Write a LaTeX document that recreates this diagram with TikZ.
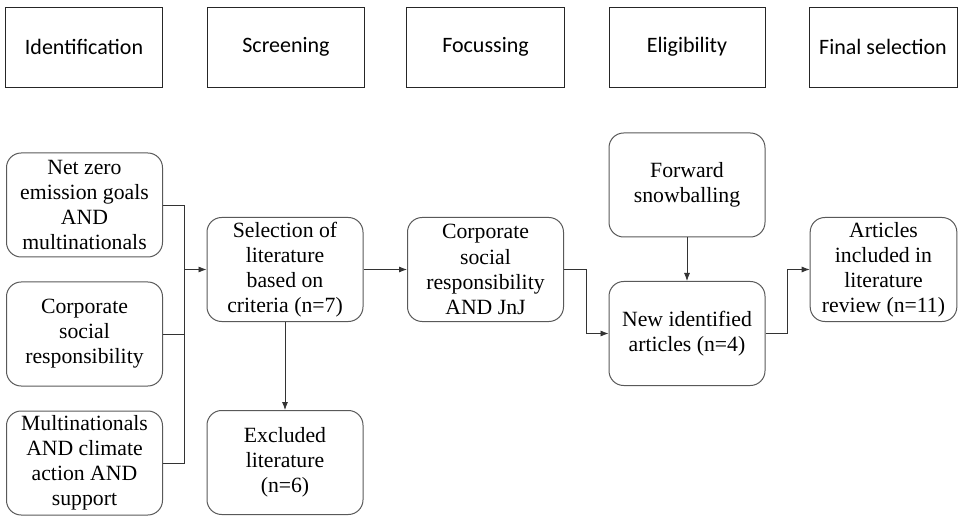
\documentclass[tikz,border=0pt]{standalone}
\usepackage{fontspec}
\setmainfont{Liberation Serif}
\newfontfamily\stagefont{Carlito}
\usetikzlibrary{arrows.meta}
\begin{document}
\begin{tikzpicture}[x=0.75pt,y=-0.75pt,>={Latex[length=6pt,width=4.5pt]},
	stage/.style={rectangle, draw=black!85, line width=0.6pt, minimum width=118pt, minimum height=60pt, font=\stagefont\fontsize{16.5}{19}\selectfont},
	box/.style={rectangle, rounded corners=11pt, draw=black!65, line width=0.75pt, minimum width=117pt, minimum height=78pt, align=center, inner sep=1pt, font=\fontsize{16.3}{18.8}\selectfont},
	link/.style={draw=black!80, line width=0.6pt}]
	\useasboundingbox (0,0) rectangle (966,516);
	\node (ident) at ( 84,  47)	[stage]	{Identification};
	\node (screen) at (286,  47)	[stage]	{Screening};
	\node (focus) at (485.5, 47)	[stage]	{Focussing};
	\node (elig) at (687,  47)	[stage, minimum width=117pt]	{Eligibility};
	\node (final) at (883,  47)	[stage, minimum width=111pt]	{Final selection};
	\node (netzero) at (84.5, 205)	[box]	{Net zero\\emission goals\\AND\\multinationals};
	\node (csr) at (84.5, 334)	[box]	{Corporate\\social\\responsibility};
	\node (multi) at (84.5, 463)	[box]	{Multinationals\\AND climate\\action AND\\support};
	\node (select) at (285, 269.5)	[box]	{Selection of\\literature\\based on\\criteria (n=7)};
	\node (excl) at (285, 462.5)	[box]	{Excluded\\literature\\(n=6)};
	\node (jnj) at (485.5, 269.5)	[box]	{Corporate\\social\\responsibility\\AND JnJ};
	\node (fwd) at (687, 185)	[box]	{Forward\\snowballing};
	\node (newid) at (687, 333.5)	[box]	{New identified\\articles (n=4)};
	\node (articles) at (883.5, 269.5)	[box, minimum width=110pt]	{Articles\\included in\\literature\\review (n=11)};
	\coordinate (merge) at (184, 269.5);
	\draw[link] (netzero.east) -| (merge);
	\draw[link] (csr.east) -| (merge);
	\draw[link] (multi.east) -| (merge);
	\draw[link, ->] (merge) -- (select.west);
	\draw[link, ->] (select.south) -- (excl.north);
	\draw[link, ->] (select.east) -- (jnj.west);
	\draw[link, ->] (jnj.east) -- ++(22,0) |- (newid.west);
	\draw[link, ->] (fwd.south) -- (newid.north);
	\draw[link, ->] (newid.east) -- ++(22,0) |- (articles.west);
\end{tikzpicture}
\end{document}
